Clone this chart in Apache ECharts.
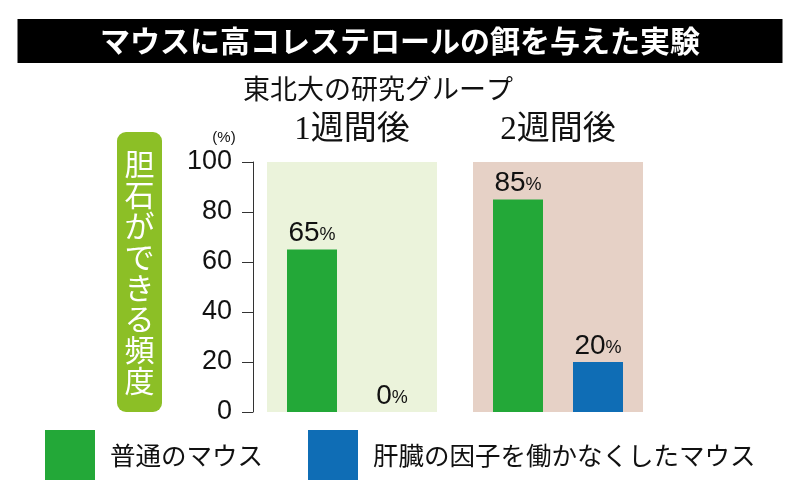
<!DOCTYPE html>
<html>
<head>
<meta charset="utf-8">
<script src="https://cdn.jsdelivr.net/npm/echarts@6/dist/echarts.min.js"></script>
<style>
html,body{margin:0;padding:0;background:#fff;}
#chart{width:800px;height:500px;}
</style>
</head>
<body>
<div id="chart"></div>
<script>
const categories = ['1週間後', '2週間後'];
const normalMice = [65, 85];
const knockoutMice = [0, 20];
const seriesNames = ['普通のマウス', '肝臓の因子を働かなくしたマウス'];
const panelValues = [100, 100];
const yMin = 0, yMax = 100, yStep = 20;
const titleText = 'マウスに高コレステロールの餌を与えた実験';
const subtitleText = '東北大の研究グループ';
const yAxisTitle = '胆石ができる頻度';
const unitText = '(%)';

const JP = "'Noto Sans CJK JP', sans-serif";
const NUM = "'Liberation Sans', Arial, sans-serif";
const panelColors = ['#ebf3db', '#e6d1c6'];

const chart = echarts.init(document.getElementById('chart'), null, {renderer: 'canvas'});

const barLabel = {
  show: true,
  position: 'top',
  distance: 2,
  formatter: '{n|{c}}{p|%}',
  rich: {
    n: {fontSize: 28, fontFamily: NUM, color: '#111'},
    p: {fontSize: 18, fontFamily: NUM, color: '#111', padding: [4, 0, 0, 0]}
  }
};

chart.setOption({
  backgroundColor: '#fff',
  animation: false,
  title: [
    {
      text: '{t|' + titleText + '}',
      left: 400, top: 41, padding: 0,
      textAlign: 'center', textVerticalAlign: 'middle',
      textStyle: {
        rich: {
          t: {width: 765, height: 44, lineHeight: 44, align: 'center',
              backgroundColor: '#000', color: '#fff', fontSize: 30,
              fontWeight: 'bold', fontFamily: JP}
        }
      }
    },
    {
      text: subtitleText,
      left: 378, top: 89, padding: 0,
      textAlign: 'center', textVerticalAlign: 'middle',
      textStyle: {fontSize: 27, fontWeight: 'normal', color: '#111', fontFamily: JP}
    },
    {
      text: yAxisTitle.split('').join('\n'),
      left: 132, top: 256, padding: [16, 7.5, 16, 7.5],
      textAlign: 'center', textVerticalAlign: 'middle',
      backgroundColor: '#8cbf26', borderRadius: 9,
      textStyle: {fontSize: 30, lineHeight: 31, fontWeight: 'normal', color: '#fff', fontFamily: JP}
    },
    {
      text: unitText,
      left: 224, top: 138, padding: 0,
      textAlign: 'center', textVerticalAlign: 'middle',
      textStyle: {fontSize: 15, fontWeight: 'normal', color: '#111', fontFamily: NUM}
    }
  ],
  legend: {
    data: seriesNames,
    left: 45, top: 430, padding: 0,
    icon: 'rect',
    itemWidth: 50, itemHeight: 50, itemGap: 45,
    selectedMode: false,
    textStyle: {fontSize: 25.5, color: '#111', fontFamily: JP, padding: [0, 0, 0, 10]}
  },
  grid: {left: 249, right: 139, top: 162, bottom: 88, containLabel: false},
  xAxis: [
    {
      type: 'category', data: categories, position: 'bottom',
      axisLine: {show: false}, axisTick: {show: false}, axisLabel: {show: false},
      splitLine: {show: false}
    },
    {
      type: 'category', data: categories, position: 'top',
      axisLine: {show: false}, axisTick: {show: false},
      axisLabel: {show: true, margin: 15, fontSize: 33, color: '#111',
                  fontFamily: "'Liberation Serif', 'Noto Sans CJK JP', serif"},
      splitLine: {show: false}
    }
  ],
  yAxis: {
    type: 'value', min: yMin, max: yMax, interval: yStep, offset: -4,
    axisLine: {show: true, lineStyle: {color: '#333', width: 1}},
    axisTick: {show: true, length: 11, lineStyle: {color: '#333', width: 1}},
    axisLabel: {margin: 21, fontSize: 27, color: '#111', fontFamily: NUM},
    splitLine: {show: false}
  },
  series: [
    {
      name: 'panel', type: 'bar', xAxisIndex: 1, barWidth: 170, silent: true, z: 1,
      data: panelValues.map((v, i) => ({value: v, itemStyle: {color: panelColors[i]}})),
      label: {show: false}
    },
    {
      name: seriesNames[0], type: 'bar', xAxisIndex: 0, barWidth: 50, barGap: '60%', z: 3,
      itemStyle: {color: '#23a838'},
      data: normalMice, label: barLabel
    },
    {
      name: seriesNames[1], type: 'bar', xAxisIndex: 0, barWidth: 50, barGap: '60%', z: 3,
      itemStyle: {color: '#0f6db5'},
      data: knockoutMice, label: barLabel
    }
  ]
});
</script>
</body>
</html>
